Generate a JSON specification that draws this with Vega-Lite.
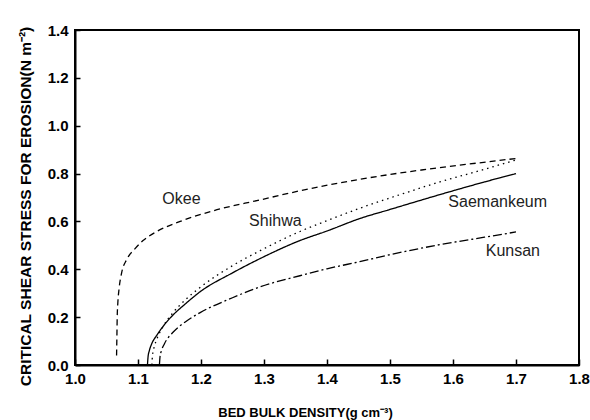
{
  "$schema": "https://vega.github.io/schema/vega-lite/v6.json",
  "width": 504,
  "height": 335,
  "autosize": "none",
  "padding": {"left": 75, "top": 30, "right": 11, "bottom": 55},
  "background": "white",
  "config": {
    "view": {"stroke": "black", "strokeWidth": 2},
    "font": "Liberation Sans",
    "axis": {
      "grid": false,
      "domainColor": "black",
      "domainWidth": 2,
      "tickColor": "black",
      "tickWidth": 1.5,
      "labelFont": "Liberation Sans",
      "labelFontWeight": "bold",
      "labelFontSize": 15,
      "labelColor": "black",
      "titleFont": "Liberation Sans",
      "titleFontWeight": "bold",
      "titleFontSize": 13,
      "titleColor": "black"
    }
  },
  "data": {
    "values": [
      {"site": "Okee", "x": 1.066, "y": 0.04},
      {"site": "Okee", "x": 1.0665, "y": 0.12},
      {"site": "Okee", "x": 1.067, "y": 0.2},
      {"site": "Okee", "x": 1.068, "y": 0.26},
      {"site": "Okee", "x": 1.07, "y": 0.32},
      {"site": "Okee", "x": 1.074, "y": 0.385},
      {"site": "Okee", "x": 1.082, "y": 0.44},
      {"site": "Okee", "x": 1.095, "y": 0.485},
      {"site": "Okee", "x": 1.108, "y": 0.52},
      {"site": "Okee", "x": 1.13, "y": 0.558},
      {"site": "Okee", "x": 1.167, "y": 0.6},
      {"site": "Okee", "x": 1.22, "y": 0.645},
      {"site": "Okee", "x": 1.294, "y": 0.69},
      {"site": "Okee", "x": 1.357, "y": 0.728},
      {"site": "Okee", "x": 1.452, "y": 0.776},
      {"site": "Okee", "x": 1.55, "y": 0.815},
      {"site": "Okee", "x": 1.62, "y": 0.838},
      {"site": "Okee", "x": 1.7, "y": 0.863},
      {"site": "Saemankeum", "x": 1.115, "y": 0},
      {"site": "Saemankeum", "x": 1.116, "y": 0.035},
      {"site": "Saemankeum", "x": 1.118, "y": 0.06},
      {"site": "Saemankeum", "x": 1.122, "y": 0.09},
      {"site": "Saemankeum", "x": 1.13, "y": 0.125},
      {"site": "Saemankeum", "x": 1.14, "y": 0.162},
      {"site": "Saemankeum", "x": 1.156, "y": 0.21},
      {"site": "Saemankeum", "x": 1.175, "y": 0.255},
      {"site": "Saemankeum", "x": 1.198, "y": 0.305},
      {"site": "Saemankeum", "x": 1.25, "y": 0.385},
      {"site": "Saemankeum", "x": 1.294, "y": 0.445},
      {"site": "Saemankeum", "x": 1.357, "y": 0.52},
      {"site": "Saemankeum", "x": 1.4, "y": 0.56},
      {"site": "Saemankeum", "x": 1.452, "y": 0.612},
      {"site": "Saemankeum", "x": 1.5, "y": 0.65},
      {"site": "Saemankeum", "x": 1.579, "y": 0.712},
      {"site": "Saemankeum", "x": 1.65, "y": 0.765},
      {"site": "Saemankeum", "x": 1.7, "y": 0.8},
      {"site": "Shihwa", "x": 1.122, "y": 0},
      {"site": "Shihwa", "x": 1.123, "y": 0.04},
      {"site": "Shihwa", "x": 1.125, "y": 0.068},
      {"site": "Shihwa", "x": 1.13, "y": 0.109},
      {"site": "Shihwa", "x": 1.14, "y": 0.162},
      {"site": "Shihwa", "x": 1.156, "y": 0.22},
      {"site": "Shihwa", "x": 1.175, "y": 0.272},
      {"site": "Shihwa", "x": 1.198, "y": 0.323},
      {"site": "Shihwa", "x": 1.25, "y": 0.415},
      {"site": "Shihwa", "x": 1.294, "y": 0.478},
      {"site": "Shihwa", "x": 1.357, "y": 0.558},
      {"site": "Shihwa", "x": 1.4, "y": 0.603},
      {"site": "Shihwa", "x": 1.452, "y": 0.655},
      {"site": "Shihwa", "x": 1.5, "y": 0.698},
      {"site": "Shihwa", "x": 1.579, "y": 0.765},
      {"site": "Shihwa", "x": 1.65, "y": 0.818},
      {"site": "Shihwa", "x": 1.7, "y": 0.857},
      {"site": "Kunsan", "x": 1.134, "y": 0},
      {"site": "Kunsan", "x": 1.135, "y": 0.036},
      {"site": "Kunsan", "x": 1.137, "y": 0.058},
      {"site": "Kunsan", "x": 1.142, "y": 0.089},
      {"site": "Kunsan", "x": 1.156, "y": 0.138},
      {"site": "Kunsan", "x": 1.175, "y": 0.18},
      {"site": "Kunsan", "x": 1.198, "y": 0.218},
      {"site": "Kunsan", "x": 1.25, "y": 0.281},
      {"site": "Kunsan", "x": 1.294, "y": 0.327},
      {"site": "Kunsan", "x": 1.357, "y": 0.373},
      {"site": "Kunsan", "x": 1.4, "y": 0.402},
      {"site": "Kunsan", "x": 1.452, "y": 0.432},
      {"site": "Kunsan", "x": 1.5, "y": 0.461},
      {"site": "Kunsan", "x": 1.579, "y": 0.503},
      {"site": "Kunsan", "x": 1.65, "y": 0.534},
      {"site": "Kunsan", "x": 1.7, "y": 0.556}
    ]
  },
  "layer": [
    {
      "mark": {"type": "line", "color": "black", "strokeWidth": 1.3, "interpolate": "monotone"},
      "encoding": {
        "x": {
          "field": "x", "type": "quantitative",
          "scale": {"domain": [1.0, 1.8], "nice": false, "zero": false},
          "axis": {
            "title": "BED BULK DENSITY(g cm\u207b\u00b3)",
            "titleX": 230,
            "titlePadding": 20,
            "values": [1.0, 1.05, 1.1, 1.15, 1.2, 1.25, 1.3, 1.35, 1.4, 1.45, 1.5, 1.55, 1.6, 1.65, 1.7, 1.75, 1.8],
            "labelExpr": "abs(datum.value*10 - round(datum.value*10)) < 0.01 ? format(datum.value, '.1f') : ''",
            "tickSize": -6,
            "labelPadding": 12,
            "labelFlush": false,
            "labelOverlap": false
          }
        },
        "y": {
          "field": "y", "type": "quantitative",
          "scale": {"domain": [0, 1.4], "nice": false},
          "axis": {
            "title": "CRITICAL SHEAR STRESS FOR EROSION(N m\u207b\u00b2)",
            "titleFontSize": 15.5,
            "titlePadding": 14,
            "titleY": 176,
            "values": [0, 0.1, 0.2, 0.3, 0.4, 0.5, 0.6, 0.7, 0.8, 0.9, 1.0, 1.1, 1.2, 1.3, 1.4],
            "labelExpr": "abs(datum.value*5 - round(datum.value*5)) < 0.01 ? format(datum.value, '.1f') : ''",
            "tickSize": -5,
            "labelPadding": 12,
            "labelFlush": false,
            "labelOverlap": false
          }
        },
        "detail": {"field": "site"},
        "strokeDash": {
          "field": "site", "type": "nominal",
          "scale": {
            "domain": ["Okee", "Shihwa", "Saemankeum", "Kunsan"],
            "range": [[6, 4], [1.5, 4], [1, 0], [9, 3, 2, 3]]
          },
          "legend": null
        },
        "order": {"field": "x", "type": "quantitative"}
      }
    },
    {
      "data": {
        "values": [
          {"label": "Okee", "x": 1.169, "y": 0.695},
          {"label": "Shihwa", "x": 1.318, "y": 0.602},
          {"label": "Saemankeum", "x": 1.671, "y": 0.682},
          {"label": "Kunsan", "x": 1.695, "y": 0.476}
        ]
      },
      "mark": {"type": "text", "color": "#222", "font": "Liberation Sans", "fontSize": 16, "align": "center", "baseline": "middle"},
      "encoding": {
        "x": {"field": "x", "type": "quantitative"},
        "y": {"field": "y", "type": "quantitative"},
        "text": {"field": "label"}
      }
    }
  ]
}
